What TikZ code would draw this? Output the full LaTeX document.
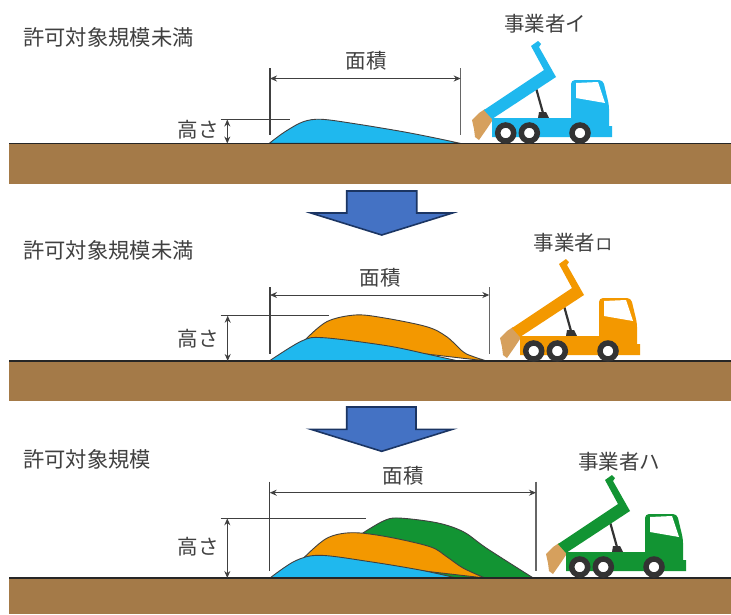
\documentclass[tikz,border=0pt]{standalone}
\usepackage{fontspec}
\setmainfont{Noto Sans CJK JP}
\usetikzlibrary{arrows.meta}
\definecolor{soilbrown}{HTML}{A47A48}
\definecolor{pileblue}{HTML}{1FB8EE}
\definecolor{pileorange}{HTML}{F39800}
\definecolor{pilegreen}{HTML}{129433}
\definecolor{loadtan}{HTML}{D6A05D}
\definecolor{arrowfill}{HTML}{4472C4}
\definecolor{arrowedge}{HTML}{1B3563}
\definecolor{inkgrey}{HTML}{404040}
\tikzset{
  label text/.style={font=\fontsize{20.5}{24}\selectfont,text=inkgrey,inner sep=0pt},
  title text/.style={font=\fontsize{21.3}{24}\selectfont,text=inkgrey,inner sep=0pt,anchor=west},
  ground/.style={fill=soilbrown,draw=none},
  groundline/.style={draw=black!85,line width=1.3pt},
  pile/.style={draw=black!75,line width=.9pt},
  flow/.style={fill=arrowfill,draw=arrowedge,line width=1.6pt},
  refline/.style={draw=black!75,line width=1.1pt},
  edgeline/.style={draw=black!60,line width=1.4pt},
  dimension/.style={draw=inkgrey,line width=1pt,{Stealth[length=7pt,width=6pt]}-{Stealth[length=7pt,width=6pt]}},
}
\newcommand{\dumptruck}[3]{%
\begin{scope}[shift={(#1,#2)}]
  \fill[loadtan] (-7,-34) -- (2,-25) -- (-6,-13) -- (-13,-3) -- (-17,-6) -- (-18,-14) -- (-20,-23) -- (-13,-30) -- cycle;
  \draw[draw=black!80,line width=2.2pt] (44,-55) -- (51,-30);
  \fill[black!80] (46,-25) -- (47,-31) -- (54,-31) -- (57,-25) -- cycle;
  \fill[#3] (39,-97) -- (52,-73) -- (-8,-33) -- (0,-24) -- (64,-66) -- (47,-96) -- (49,-99) -- (46,-102) -- cycle;
  \fill[#3,rounded corners=4pt] (79,-8) -- (79,-63) -- (111,-63) -- (117,-38) -- (117,-8) -- cycle;
  \fill[#3] (0,-25) -- (79,-25) -- (79,-15) -- (117,-15) -- (117,-17) -- (120,-17) -- (120,-6) -- (0,-6) -- cycle;
  \fill[white] (84,-60) -- (106,-61) -- (113,-40) -- (84,-45) -- cycle;
  \foreach \wx in {13.7,37.3,88}{
    \draw[draw=black!80,fill=white,line width=5.5pt] (\wx,-10) circle[radius=8];
  }
\end{scope}}
\begin{document}
\begin{tikzpicture}[x=1pt,y=-1pt]
\useasboundingbox (0,0) rectangle (731,614);
\fill[white] (0,0) rectangle (731,614);

% ---------- panel 1 ----------
\fill[ground] (9,144) rectangle (731,184);
\filldraw[pile,fill=pileblue] plot[smooth,tension=.55] coordinates {(269.3,143.3) (285,131.7) (303.3,121.7) (321.7,119.3) (356.7,124) (403,131.7) (436.7,138.3) (460,143.3)} -- cycle;
\draw[groundline] (9,143.7) -- (731,143.7);
\dumptruck{492}{143}{pileblue}
\coordinate (a1t) at (270,68); \coordinate (a1b) at (270,135);
\coordinate (b1t) at (460.7,68); \coordinate (b1b) at (460.7,135);
\coordinate (a1m) at (270,78.5); \coordinate (b1m) at (460.7,78.5);
\coordinate (h1l) at (220.7,119.5); \coordinate (h1r) at (290,119.5);
\coordinate (h1u) at (227.3,119.5); \coordinate (h1d) at (227.3,143.5);
\draw[refline] (a1t) -- (a1b);
\draw[edgeline] (b1t) -- (b1b);
\draw[dimension] (a1m) -- (b1m);
\draw[refline] (h1l) -- (h1r);
\draw[dimension] (h1u) -- (h1d);
\node[title text] (t1) at (23,37) {許可対象規模未満};
\node[label text] (m1) at (366,61) {面積};
\node[label text] (k1) at (198,130) {高さ};
\node[label text] (o1) at (545,24) {事業者イ};

% ---------- arrow 1 ----------
\draw[flow] (346.7,191) -- (416.7,191) -- (416.7,213) -- (452.5,213) -- (381.7,235) -- (310.9,213) -- (346.7,213) -- cycle;

% ---------- panel 2 ----------
\fill[ground] (9,361) rectangle (731,401);
\filldraw[pile,fill=pileorange] plot[smooth,tension=.55] coordinates {(305,340) (326.7,321.7) (355,315) (383,317.7) (426.7,326.7) (446.7,336.7) (463,351.7) (473,356.5) (486.7,361)} -- cycle;
\filldraw[pile,fill=pileblue] plot[smooth,tension=.55] coordinates {(269.3,361) (301.7,341) (323.3,337.7) (386.7,345.7) (426.7,354) (458.3,361)} -- cycle;
\draw[groundline] (9,361) -- (731,361);
\dumptruck{520}{361}{pileorange}
\coordinate (a2t) at (270,287); \coordinate (a2b) at (270,354);
\coordinate (b2t) at (489.3,287); \coordinate (b2b) at (489.3,354);
\coordinate (a2m) at (270,295); \coordinate (b2m) at (489.3,295);
\coordinate (h2l) at (220.7,315.7); \coordinate (h2r) at (329.3,315.7);
\coordinate (h2u) at (227.7,315.7); \coordinate (h2d) at (227.7,361);
\draw[refline] (a2t) -- (a2b);
\draw[edgeline] (b2t) -- (b2b);
\draw[dimension] (a2m) -- (b2m);
\draw[refline] (h2l) -- (h2r);
\draw[dimension] (h2u) -- (h2d);
\node[title text] (t2) at (23,250) {許可対象規模未満};
\node[label text] (m2) at (380,278) {面積};
\node[label text] (k2) at (198,339) {高さ};
\node[label text] (o2) at (573,243) {事業者{\fontsize{17}{20}\selectfont ロ}};

% ---------- arrow 2 ----------
\draw[flow] (346.7,407) -- (416,407) -- (416,429.3) -- (452.5,429.3) -- (381.7,451.3) -- (310.9,429.3) -- (346.7,429.3) -- cycle;

% ---------- panel 3 ----------
\fill[ground] (9,578) rectangle (731,614);
\filldraw[pile,fill=pilegreen] plot[smooth,tension=.55] coordinates {(363.3,532.7) (383.3,521) (398.3,518) (436.7,522.7) (463.3,531.7) (486.7,548.3) (533.3,578)} -- (440,578) -- cycle;
\filldraw[pile,fill=pileorange] plot[smooth,tension=.55] coordinates {(304.3,557.3) (326.7,538.3) (351.7,532.7) (386.7,536.7) (430,546.7) (446.7,556.7) (463,568) (485,578)} -- cycle;
\filldraw[pile,fill=pileblue] plot[smooth,tension=.55] coordinates {(270,578) (295,561) (320,555.3) (370,561.7) (420,570) (456.7,578)} -- cycle;
\draw[groundline] (9,578) -- (731,578);
\dumptruck{566}{577}{pilegreen}
\coordinate (a3t) at (269.7,481.7); \coordinate (a3b) at (269.7,570.7);
\coordinate (b3t) at (536,481.7); \coordinate (b3b) at (536,570.7);
\coordinate (a3m) at (269.7,492.7); \coordinate (b3m) at (536,492.7);
\coordinate (h3l) at (220.7,518.3); \coordinate (h3r) at (365.7,518.3);
\coordinate (h3u) at (227.3,518.3); \coordinate (h3d) at (227.3,578);
\draw[refline] (a3t) -- (a3b);
\draw[edgeline] (b3t) -- (b3b);
\draw[dimension] (a3m) -- (b3m);
\draw[refline] (h3l) -- (h3r);
\draw[dimension] (h3u) -- (h3d);
\node[title text] (t3) at (23,459) {許可対象規模};
\node[label text] (m3) at (403,476) {面積};
\node[label text] (k3) at (198,546.7) {高さ};
\node[label text] (o3) at (619,461.7) {事業者ハ};
\end{tikzpicture}
\end{document}
